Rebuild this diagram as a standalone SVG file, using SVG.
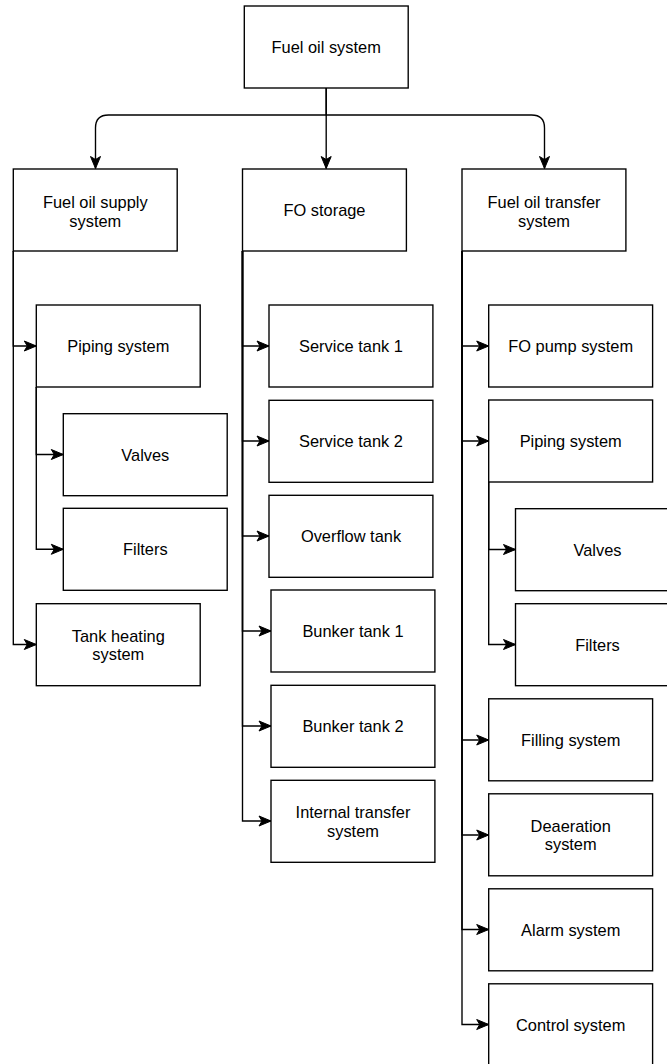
<svg xmlns="http://www.w3.org/2000/svg" width="667" height="1064" viewBox="0 0 667 1064">
  <style>
    .box { fill: #ffffff; stroke: #000000; stroke-width: 1.37; }
    .lbl { font-family: "Liberation Sans", Arial, Helvetica, sans-serif; font-size: 16.4px; fill: #000000; text-anchor: middle; }
    .edge { fill: none; stroke: #000000; stroke-width: 1.37; marker-end: url(#arrow); }
  </style>
  <defs>
    <marker id="arrow" markerUnits="userSpaceOnUse" viewBox="-13 -6 14 12" refX="0" refY="0" markerWidth="14" markerHeight="12" orient="auto">
      <path d="M0,0 L-12,-5 L-9,0 L-12,5 Z" fill="#000000" stroke="#000000" stroke-width="1"/>
    </marker>
  </defs>
  <rect width="667" height="1064" fill="#ffffff"/>

  <!-- connectors -->
  <g id="connectors">
    <!-- root to the three subsystems -->
    <path class="edge" d="M326.2,88 V115 H108.5 Q95.5,115 95.5,128 V168.5"/>
    <path class="edge" d="M326.2,88 V168.5"/>
    <path class="edge" d="M326.2,115 H531.5 Q544.5,115 544.5,128 V168.5"/>

    <!-- fuel oil supply system -->
    <path class="edge" d="M13.3,251 V346 H36.3"/>
    <path class="edge" d="M13.3,251 V644.5 H36.3"/>
    <path class="edge" d="M36.3,387 V454.5 H63.3"/>
    <path class="edge" d="M36.3,387 V549.3 H63.3"/>

    <!-- FO storage -->
    <path class="edge" d="M242.5,251 V346 H269"/>
    <path class="edge" d="M242.5,251 V441 H269"/>
    <path class="edge" d="M242.5,251 V536 H269"/>
    <path class="edge" d="M242.5,251 V631 H271"/>
    <path class="edge" d="M242.5,251 V726 H271"/>
    <path class="edge" d="M242.5,251 V821 H271"/>

    <!-- fuel oil transfer system -->
    <path class="edge" d="M462,251 V346 H488.7"/>
    <path class="edge" d="M462,251 V441 H488.7"/>
    <path class="edge" d="M462,251 V740 H488.7"/>
    <path class="edge" d="M462,251 V835 H488.7"/>
    <path class="edge" d="M462,251 V929.5 H488.7"/>
    <path class="edge" d="M462,251 V1024.5 H488.7"/>
    <path class="edge" d="M488.7,482 V549.5 H515.5"/>
    <path class="edge" d="M488.7,482 V644.5 H515.5"/>
  </g>

  <!-- root -->
  <g id="fuel-oil-system">
    <rect class="box" x="244.3" y="6" width="163.9" height="82"/>
    <text class="lbl" x="326.2" y="52.8">Fuel oil system</text>
  </g>

  <!-- level 1 -->
  <g id="fuel-oil-supply-system">
    <rect class="box" x="13.3" y="169" width="163.9" height="82"/>
    <text class="lbl" x="95.3" y="207.8">Fuel oil supply</text>
    <text class="lbl" x="95.3" y="226.6">system</text>
  </g>
  <g id="fo-storage">
    <rect class="box" x="242.5" y="169" width="163.9" height="82"/>
    <text class="lbl" x="324.5" y="215.8">FO storage</text>
  </g>
  <g id="fuel-oil-transfer-system">
    <rect class="box" x="462" y="169" width="163.9" height="82"/>
    <text class="lbl" x="544" y="207.8">Fuel oil transfer</text>
    <text class="lbl" x="544" y="226.6">system</text>
  </g>

  <!-- supply branch -->
  <g id="supply-piping-system">
    <rect class="box" x="36.3" y="305" width="163.9" height="82"/>
    <text class="lbl" x="118.3" y="351.8">Piping system</text>
  </g>
  <g id="supply-valves">
    <rect class="box" x="63.3" y="413.7" width="163.9" height="82"/>
    <text class="lbl" x="145.3" y="460.5">Valves</text>
  </g>
  <g id="supply-filters">
    <rect class="box" x="63.3" y="508.3" width="163.9" height="82"/>
    <text class="lbl" x="145.3" y="555.1">Filters</text>
  </g>
  <g id="tank-heating-system">
    <rect class="box" x="36.3" y="603.7" width="163.9" height="82"/>
    <text class="lbl" x="118.3" y="641.5">Tank heating</text>
    <text class="lbl" x="118.3" y="660.3">system</text>
  </g>

  <!-- storage branch -->
  <g id="service-tank-1">
    <rect class="box" x="269" y="305" width="163.9" height="82"/>
    <text class="lbl" x="351" y="351.8">Service tank 1</text>
  </g>
  <g id="service-tank-2">
    <rect class="box" x="269" y="400.3" width="163.9" height="82"/>
    <text class="lbl" x="351" y="447.1">Service tank 2</text>
  </g>
  <g id="overflow-tank">
    <rect class="box" x="269" y="495.3" width="163.9" height="82"/>
    <text class="lbl" x="351" y="542.1">Overflow tank</text>
  </g>
  <g id="bunker-tank-1">
    <rect class="box" x="271" y="590" width="163.9" height="82"/>
    <text class="lbl" x="353" y="636.8">Bunker tank 1</text>
  </g>
  <g id="bunker-tank-2">
    <rect class="box" x="271" y="685.3" width="163.9" height="82"/>
    <text class="lbl" x="353" y="732.1">Bunker tank 2</text>
  </g>
  <g id="internal-transfer-system">
    <rect class="box" x="271" y="780.3" width="163.9" height="82"/>
    <text class="lbl" x="353" y="818.1">Internal transfer</text>
    <text class="lbl" x="353" y="836.9">system</text>
  </g>

  <!-- transfer branch -->
  <g id="fo-pump-system">
    <rect class="box" x="488.7" y="305" width="163.9" height="82"/>
    <text class="lbl" x="570.7" y="351.8">FO pump system</text>
  </g>
  <g id="transfer-piping-system">
    <rect class="box" x="488.7" y="400" width="163.9" height="82"/>
    <text class="lbl" x="570.7" y="446.8">Piping system</text>
  </g>
  <g id="transfer-valves">
    <rect class="box" x="515.5" y="508.7" width="163.9" height="82"/>
    <text class="lbl" x="597.5" y="555.5">Valves</text>
  </g>
  <g id="transfer-filters">
    <rect class="box" x="515.5" y="603.7" width="163.9" height="82"/>
    <text class="lbl" x="597.5" y="650.5">Filters</text>
  </g>
  <g id="filling-system">
    <rect class="box" x="488.7" y="698.8" width="163.9" height="82"/>
    <text class="lbl" x="570.7" y="745.6">Filling system</text>
  </g>
  <g id="deaeration-system">
    <rect class="box" x="488.7" y="793.8" width="163.9" height="82"/>
    <text class="lbl" x="570.7" y="831.6">Deaeration</text>
    <text class="lbl" x="570.7" y="850.4">system</text>
  </g>
  <g id="alarm-system">
    <rect class="box" x="488.7" y="888.8" width="163.9" height="82"/>
    <text class="lbl" x="570.7" y="935.6">Alarm system</text>
  </g>
  <g id="control-system">
    <rect class="box" x="488.7" y="983.8" width="163.9" height="82"/>
    <text class="lbl" x="570.7" y="1030.6">Control system</text>
  </g>
</svg>
